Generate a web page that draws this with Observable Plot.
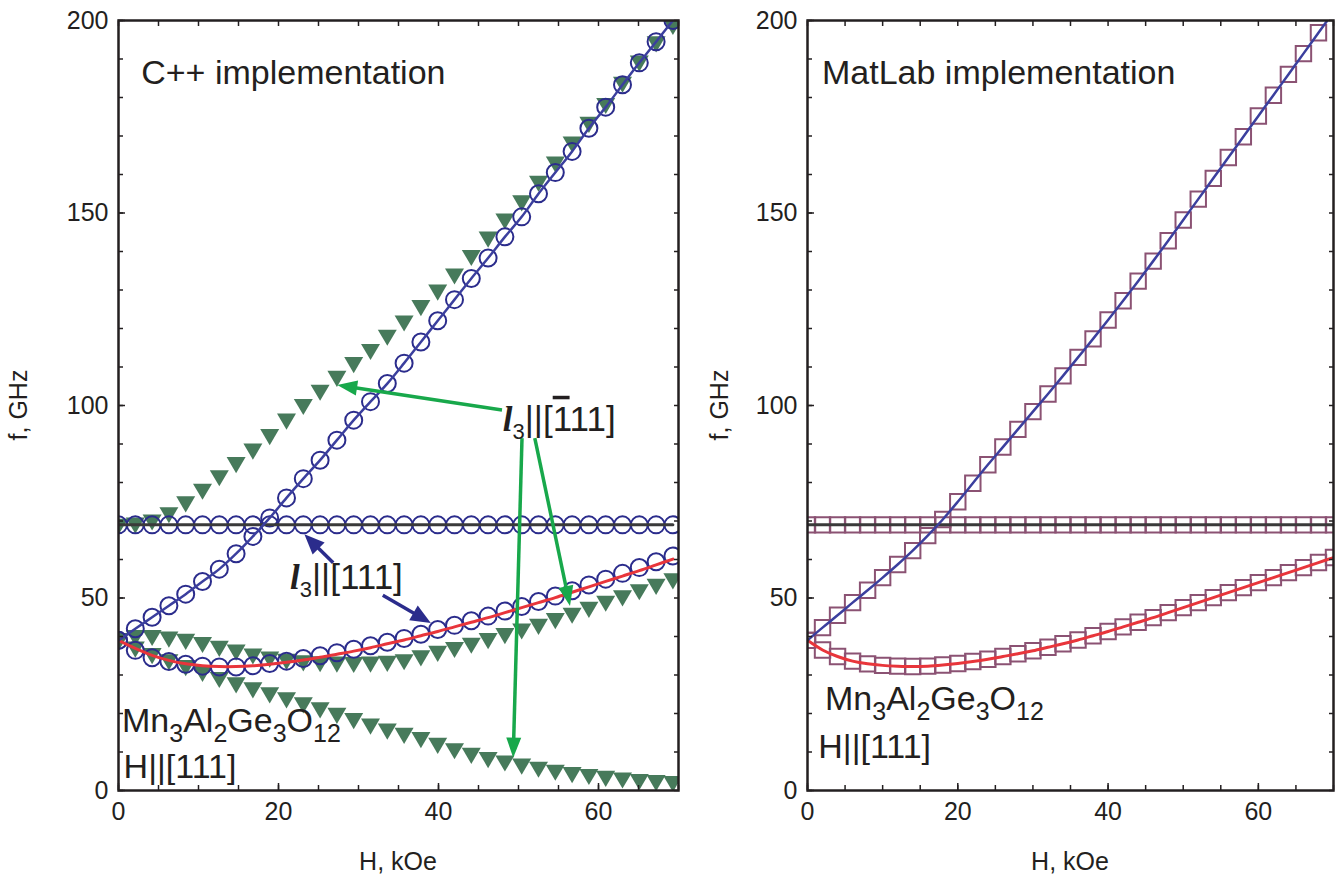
<!DOCTYPE html>
<html><head><meta charset="utf-8">
<script src="https://cdn.jsdelivr.net/npm/d3@7"></script>
<script src="https://cdn.jsdelivr.net/npm/@observablehq/plot@0.6"></script>
<style>
html,body{margin:0;padding:0;background:#fff;}
#wrap{position:relative;width:1341px;height:879px;overflow:hidden;}
#left{position:absolute;left:0;top:0;}
#right{position:absolute;left:690px;top:0;}
</style></head><body><div id="wrap"><div id="left"></div><div id="right"></div></div>
<script>
// ---------- data ----------
const X_MAJOR = [0, 20, 40, 60];
const X_MINOR = [0, 5, 10, 15, 20, 25, 30, 35, 40, 45, 50, 55, 60, 65, 70];
const Y_MAJOR = [0, 50, 100, 150, 200];
const Y_MINOR = [0, 10, 20, 30, 40, 50, 60, 70, 80, 90, 100, 110, 120, 130, 140, 150, 160, 170, 180, 190, 200];

// C++ panel field grid (kOe)
const H_CPP = [0, 2.1, 4.2, 6.3, 8.4, 10.5, 12.6, 14.7, 16.8, 18.9, 21, 23.1, 25.2, 27.3, 29.4, 31.5, 33.6, 35.7, 37.8, 39.9, 42, 44.1, 46.2, 48.3, 50.4, 52.5, 54.6, 56.7, 58.8, 60.9, 63, 65.1, 67.2, 69.3];
// l3 || [111] (circles)
const cppUpperCircles = [39, 42, 45, 48, 51, 54.3, 57.5, 61.5, 66, 70.8, 76, 81, 85.8, 91, 96.2, 101, 105.7, 111, 116.5, 122, 127.5, 133, 138.3, 143.8, 149, 155, 160.5, 166, 172, 177.5, 183.3, 189, 194.5, 200];
const cppFlatCircles = [69, 69, 69, 69, 69, 69, 69, 69, 69, 69, 69, 69, 69, 69, 69, 69, 69, 69, 69, 69, 69, 69, 69, 69, 69, 69, 69, 69, 69, 69, 69, 69, 69, 69];
const cppLowerCircles = [39, 36.4, 34.5, 33.5, 32.8, 32.3, 32.1, 32.1, 32.4, 33.0, 33.6, 34.3, 35, 35.8, 36.7, 37.6, 38.5, 39.5, 40.6, 41.8, 42.9, 44.1, 45.3, 46.6, 47.8, 49.1, 50.5, 51.9, 53.4, 54.9, 56.4, 57.9, 59.4, 60.9];
// reference lines
const cppBlueLine = [39, 42, 45, 48, 51, 54.3, 57.5, 61.5, 66, 70.8, 76, 81, 85.8, 91, 96.2, 101, 105.7, 111, 116.5, 122, 127.5, 133, 138.3, 143.8, 149, 155, 160.5, 166, 172, 177.5, 183.3, 189, 194.5, 200];
const cppRedLine = [39, 36.9, 35.1, 33.8, 32.9, 32.4, 32.2, 32.2, 32.4, 32.8, 33.3, 33.9, 34.6, 35.4, 36.2, 37.1, 38.1, 39.1, 40.2, 41.3, 42.5, 43.7, 44.9, 46.2, 47.5, 48.8, 50.1, 51.5, 52.9, 54.3, 55.7, 57.1, 58.6, 60.1];
const cppFlatLine = [69, 69, 69, 69, 69, 69, 69, 69, 69, 69, 69, 69, 69, 69, 69, 69, 69, 69, 69, 69, 69, 69, 69, 69, 69, 69, 69, 69, 69, 69, 69, 69, 69, 69];
// l3 || [-111] (triangles)
const cppGreenUpper = [69.2, 69.5, 70.3, 72.2, 75, 78.3, 81.8, 85.2, 88.7, 92.5, 96.5, 100.3, 104, 107.6, 111.2, 114.6, 118.3, 122, 126, 130, 134.2, 139, 143.8, 148.5, 153.2, 158.3, 163.3, 168.5, 173.6, 178.5, 184, 189.5, 194.5, 199];
const cppGreenMid = [39.5, 40.3, 40.3, 39.9, 39.3, 38.5, 37.5, 36.5, 35.5, 34.7, 34.1, 33.7, 33.5, 33.4, 33.3, 33.4, 33.6, 34.0, 35.0, 36.2, 37.2, 38.3, 39.5, 40.8, 42, 43.2, 44.7, 46.1, 47.6, 49.2, 50.6, 52.2, 53.6, 55];
const cppGreenLow = [39, 37.3, 35.6, 34, 32.5, 31, 29.4, 28, 26.7, 25.4, 24.1, 22.8, 21.5, 20.1, 18.7, 17.3, 16, 14.9, 13.8, 12.3, 10.9, 9.7, 8.6, 7.7, 6.9, 6.1, 5.3, 4.7, 4.2, 3.7, 3.3, 2.9, 2.6, 2.4];

// MatLab panel field grid (kOe)
const H_MAT = [0, 2, 4, 6, 8, 10, 12, 14, 16, 18, 20, 22, 24, 26, 28, 30, 32, 34, 36, 38, 40, 42, 44, 46, 48, 50, 52, 54, 56, 58, 60, 62, 64, 66, 68, 70];
const matBlue = [39, 42.3, 45.5, 48.8, 52, 55.3, 58.7, 62.3, 66.2, 70.4, 75, 79.8, 84.6, 89.2, 93.8, 98.4, 103, 107.7, 112.5, 117.3, 122.2, 127.2, 132.3, 137.5, 142.8, 148.2, 153.6, 159, 164.4, 169.8, 175.2, 180.6, 186, 191.4, 196.8, 202.2];
const matRed = [39, 36.5, 34.8, 33.6, 32.9, 32.5, 32.3, 32.2, 32.3, 32.6, 33, 33.5, 34.1, 34.8, 35.5, 36.3, 37.2, 38.1, 39.1, 40.2, 41.3, 42.5, 43.7, 44.9, 46.2, 47.5, 48.8, 50.1, 51.4, 52.7, 54, 55.3, 56.6, 57.9, 59.2, 60.5];
const matFlat = [69, 69, 69, 69, 69, 69, 69, 69, 69, 69, 69, 69, 69, 69, 69, 69, 69, 69, 69, 69, 69, 69, 69, 69, 69, 69, 69, 69, 69, 69, 69, 69, 69, 69, 69, 69];

// text labels
const PANEL_TITLES = ["C++ implementation", "MatLab implementation"];
const X_TITLE = "H, kOe";
const Y_TITLE = "f, GHz";
const FORMULA = [["Mn", false], ["3", true], ["Al", false], ["2", true], ["Ge", false], ["3", true], ["O", false], ["12", true]];
const FIELD_DIR = "H||[111]";

// annotation anchors (data units: H in kOe, f in GHz)
const cppAnno = [
  {id: "title", H: 2.9, f: 183.4},
  {id: "formula", H: 0.5, f: 15.1},
  {id: "field", H: 0.7, f: 3.1},
  {id: "l3bar", H: 48.1, f: 93.3},
  {id: "l3", H: 21.5, f: 52.3}
];
const matAnno = [
  {id: "title", H: 2.0, f: 183.4},
  {id: "formula", H: 2.4, f: 20.8},
  {id: "field", H: 1.5, f: 8.3}
];
const greenArrows = [
  {H1: 48.0, f1: 98.7, H2: 27.4, f2: 105.2},
  {H1: 50.5, f1: 91.4, H2: 49.4, f2: 8.4},
  {H1: 52.1, f1: 91.4, H2: 56.5, f2: 47.8}
];
const blueArrows = [
  {H1: 26.9, f1: 59.0, H2: 23.3, f2: 66.4},
  {H1: 33.1, f1: 50.6, H2: 39.1, f2: 43.4}
];

// ---------- styles ----------
const FONT = '"Liberation Sans", Arial, Helvetica, sans-serif';
const SERIF = '"Liberation Serif", "Times New Roman", serif';
const INK = "#231f20";
const FRAME = "#231f20";
const C_CIRCLE = "#2b2c8c";
const C_BLUE = "#3b3f9e";
const C_RED = "#e8353b";
const C_FLAT = "#3a3a3a";
const C_TRI = "#477a5b";
const C_SQUARE = "#8b5273";
const C_GARROW = "#18a84b";
const C_BARROW = "#2b2c8c";

const triDown = {
  draw(ctx, size) {
    const r = Math.sqrt(size / Math.PI);
    const w = r, h = 1.7 * r;
    ctx.moveTo(-w, -h / 3);
    ctx.lineTo(w, -h / 3);
    ctx.lineTo(0, 2 * h / 3);
    ctx.closePath();
  }
};

const cpp = H_CPP.map((H, i) => ({
  H, up: cppUpperCircles[i], flat: cppFlatCircles[i], low: cppLowerCircles[i],
  blue: cppBlueLine[i], red: cppRedLine[i], flatLine: cppFlatLine[i],
  gUp: cppGreenUpper[i], gMid: cppGreenMid[i], gLow: cppGreenLow[i]
}));
const mat = H_MAT.map((H, i) => ({H, blue: matBlue[i], red: matRed[i], flat: matFlat[i]}));

const hasAxisMarks = typeof Plot.axisX === "function";

function axisMarks() {
  if (!hasAxisMarks) return [Plot.frame({stroke: FRAME, strokeWidth: 2.5})];
  const noText = () => "";
  return [
    Plot.axisX({anchor: "bottom", ticks: X_MINOR, tickSize: -5, tickFormat: noText, label: null, color: FRAME, strokeWidth: 1.5}),
    Plot.axisX({anchor: "bottom", ticks: X_MAJOR, tickSize: -7, tickPadding: 19, label: null, color: INK, fontSize: 25, strokeWidth: 1.5}),
    Plot.axisX({anchor: "top", ticks: X_MINOR, tickSize: -5, tickFormat: noText, label: null, color: FRAME, strokeWidth: 1.5}),
    Plot.axisY({anchor: "left", ticks: Y_MINOR, tickSize: -5, tickFormat: noText, label: null, color: FRAME, strokeWidth: 1.5}),
    Plot.axisY({anchor: "left", ticks: Y_MAJOR, tickSize: -7, tickPadding: 17, label: null, color: INK, fontSize: 25, strokeWidth: 1.5}),
    Plot.axisY({anchor: "right", ticks: Y_MINOR, tickSize: -5, tickFormat: noText, label: null, color: FRAME, strokeWidth: 1.5}),
    Plot.frame({stroke: FRAME, strokeWidth: 2.5})
  ];
}

function scaleOpts() {
  if (hasAxisMarks) return {x: {domain: [0, 70]}, y: {domain: [0, 200]}};
  return {
    x: {domain: [0, 70], ticks: X_MAJOR, tickSize: -7, tickPadding: 12, label: null},
    y: {domain: [0, 200], ticks: Y_MAJOR, tickSize: -7, tickPadding: 10, label: null}
  };
}

const leftPlot = Plot.plot({
  width: 690, height: 879,
  marginLeft: 118, marginRight: 12, marginTop: 20, marginBottom: 89,
  ...scaleOpts(),
  style: {fontFamily: FONT, fontSize: "25px", color: INK, background: "transparent", overflow: "visible"},
  marks: [
    Plot.dot(cpp, {x: "H", y: "gUp", symbol: triDown, r: 9.5, fill: C_TRI, clip: true}),
    Plot.dot(cpp, {x: "H", y: "gMid", symbol: triDown, r: 9.5, fill: C_TRI, clip: true}),
    Plot.dot(cpp, {x: "H", y: "gLow", symbol: triDown, r: 9.5, fill: C_TRI, clip: true}),
    Plot.dot(cpp, {x: "H", y: "up", r: 8.5, stroke: C_CIRCLE, strokeWidth: 2, fill: "none", clip: true}),
    Plot.dot(cpp, {x: "H", y: "flat", r: 8.5, stroke: C_CIRCLE, strokeWidth: 2, fill: "none", clip: true}),
    Plot.dot(cpp, {x: "H", y: "low", r: 8.5, stroke: C_CIRCLE, strokeWidth: 2, fill: "none", clip: true}),
    Plot.line(cpp, {x: "H", y: "flatLine", stroke: C_FLAT, strokeWidth: 3, clip: true}),
    Plot.line(cpp, {x: "H", y: "red", stroke: C_RED, strokeWidth: 3, curve: "catmull-rom", clip: true}),
    Plot.line(cpp, {x: "H", y: "blue", stroke: C_BLUE, strokeWidth: 2.5, curve: "catmull-rom", clip: true}),
    ...axisMarks()
  ]
});

const rightPlot = Plot.plot({
  width: 651, height: 879,
  marginLeft: 117, marginRight: 8, marginTop: 20, marginBottom: 89,
  ...scaleOpts(),
  style: {fontFamily: FONT, fontSize: "25px", color: INK, background: "transparent", overflow: "visible"},
  marks: [
    Plot.dot(mat, {x: "H", y: "flat", symbol: "square", r: 8.7, stroke: C_SQUARE, strokeWidth: 2, fill: "none", clip: true}),
    Plot.dot(mat, {x: "H", y: "blue", symbol: "square", r: 8.7, stroke: C_SQUARE, strokeWidth: 2, fill: "none", clip: true}),
    Plot.dot(mat, {x: "H", y: "red", symbol: "square", r: 8.7, stroke: C_SQUARE, strokeWidth: 2, fill: "none", clip: true}),
    Plot.line(mat, {x: "H", y: "flat", stroke: C_FLAT, strokeWidth: 3, clip: true}),
    Plot.line(mat, {x: "H", y: "red", stroke: C_RED, strokeWidth: 3, curve: "catmull-rom", clip: true}),
    Plot.line(mat, {x: "H", y: "blue", stroke: C_BLUE, strokeWidth: 2.5, curve: "catmull-rom", clip: true}),
    ...axisMarks()
  ]
});

document.getElementById("left").appendChild(leftPlot);
document.getElementById("right").appendChild(rightPlot);

// ---------- annotations (positioned through the plot scales) ----------
function plainText(svg, x, y, str, size) {
  return d3.select(svg).append("text")
    .attr("x", x).attr("y", y).attr("text-anchor", "start")
    .attr("font-family", FONT).attr("font-size", size).attr("fill", INK).text(str);
}

function richText(svg, x, y, parts, size, subSize, subDy) {
  const t = d3.select(svg).append("text")
    .attr("x", x).attr("y", y).attr("text-anchor", "start")
    .attr("font-family", FONT).attr("font-size", size).attr("fill", INK);
  let shift = 0;
  for (const p of parts) {
    const ts = t.append("tspan").text(p.t);
    const target = p.sub ? subDy : 0;
    if (target !== shift) { ts.attr("dy", target - shift); shift = target; }
    if (p.sub) ts.attr("font-size", subSize);
    if (p.italic) ts.attr("font-family", SERIF).attr("font-style", "italic").attr("font-weight", "bold");
    if (p.over) ts.style("text-decoration", "overline");
  }
  return t;
}

function arrow(svg, sx, sy, a, color, width, headLen, headW) {
  const x1 = sx.apply(a.H1), y1 = sy.apply(a.f1), x2 = sx.apply(a.H2), y2 = sy.apply(a.f2);
  const dx = x2 - x1, dy = y2 - y1, L = Math.hypot(dx, dy), ux = dx / L, uy = dy / L;
  const bx = x2 - ux * headLen, by = y2 - uy * headLen;
  const g = d3.select(svg).append("g");
  g.append("line").attr("x1", x1).attr("y1", y1).attr("x2", bx + ux * 2).attr("y2", by + uy * 2)
    .attr("stroke", color).attr("stroke-width", width);
  g.append("path")
    .attr("d", `M${x2},${y2}L${bx - uy * headW / 2},${by + ux * headW / 2}L${bx + uy * headW / 2},${by - ux * headW / 2}Z`)
    .attr("fill", color);
}

function axisTitles(plot, yTitleOffset) {
  const sx = plot.scale("x"), sy = plot.scale("y");
  const [xl, xr] = sx.range, [yb, yt] = sy.range;
  d3.select(plot).append("text")
    .attr("x", (xl + xr) / 2).attr("y", yb + 73).attr("text-anchor", "middle").attr("dominant-baseline", "middle")
    .attr("font-family", FONT).attr("font-size", 25).attr("fill", INK).text(X_TITLE);
  const cx = xl - yTitleOffset, cy = (yb + yt) / 2;
  d3.select(plot).append("text")
    .attr("transform", `translate(${cx},${cy}) rotate(-90)`)
    .attr("text-anchor", "middle").attr("dominant-baseline", "middle")
    .attr("font-family", FONT).attr("font-size", 25).attr("fill", INK).text(Y_TITLE);
}

function annotate(plot, anno, title) {
  const sx = plot.scale("x"), sy = plot.scale("y");
  const get = id => anno.find(a => a.id === id);
  const ti = get("title");
  plainText(plot, sx.apply(ti.H), sy.apply(ti.f), title, 34);
  const fo = get("formula");
  richText(plot, sx.apply(fo.H), sy.apply(fo.f), FORMULA.map(([t, sub]) => ({t, sub})), 34, 25, 10);
  const fi = get("field");
  plainText(plot, sx.apply(fi.H), sy.apply(fi.f), FIELD_DIR, 34);
  return {sx, sy, get};
}

axisTitles(leftPlot, 98);
axisTitles(rightPlot, 86);
{
  const {sx, sy, get} = annotate(leftPlot, cppAnno, PANEL_TITLES[0]);
  for (const a of greenArrows) arrow(leftPlot, sx, sy, a, C_GARROW, 3.5, 20, 15);
  for (const a of blueArrows) arrow(leftPlot, sx, sy, a, C_BARROW, 3.5, 20, 17);
  const lb = get("l3bar");
  richText(leftPlot, sx.apply(lb.H), sy.apply(lb.f),
    [{t: "l", italic: true}, {t: "3", sub: true}, {t: "||["}, {t: "1", over: true}, {t: "11]"}], 35, 22, 8);
  const l3 = get("l3");
  richText(leftPlot, sx.apply(l3.H), sy.apply(l3.f),
    [{t: "l", italic: true}, {t: "3", sub: true}, {t: "||[111]"}], 35, 22, 8);
}
annotate(rightPlot, matAnno, PANEL_TITLES[1]);
</script>
</body></html>
